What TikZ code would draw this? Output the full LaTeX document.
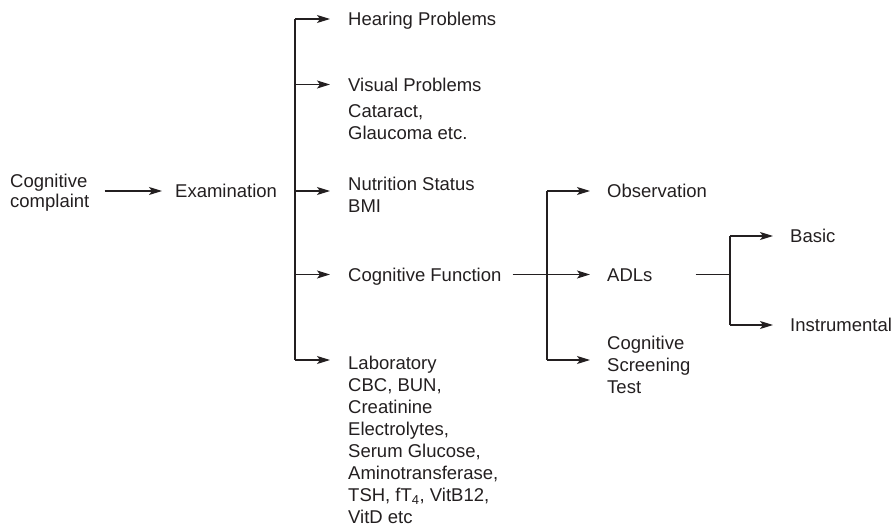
\documentclass[tikz,border=0pt]{standalone}
\usepackage{fontspec}
\setmainfont{Liberation Sans}
\usetikzlibrary{arrows.meta,calc}

\definecolor{ink}{HTML}{231F20}

\tikzset{
  lbl/.style={font=\fontsize{18.5}{22}\selectfont, text=ink, inner sep=0pt,
              anchor=west, text height=13.2pt, text depth=0pt},
  % multi-line blocks are placed by the baseline of their last line
  blk/.style={font=\fontsize{18.5}{22}\selectfont, text=ink, inner sep=0pt,
              align=left, anchor=base west},
  wire/.style={draw=ink, line width=1.2pt},
  arr/.style={wire, -{Stealth[length=13pt, width=8pt, inset=3pt]}}
}

\begin{document}
\begin{tikzpicture}[x=1pt, y=-1pt]
  \useasboundingbox (0,0) rectangle (893,526);

  % first column
  \node[blk, font=\fontsize{18.5}{20.5}\selectfont] (cc) at (10,208) {Cognitive\\complaint};
  \node[lbl] (exam) at (175,191) {Examination};

  % examination items
  \node[lbl] (hear) at (348,19) {Hearing Problems};
  \node[lbl] (vis) at (348,84.5) {Visual Problems};
  \node[blk] (cat) at (348,139.5) {Cataract,\\Glaucoma etc.};
  \node[blk] (nut) at (348,212.7) {Nutrition Status\\BMI};
  \node[lbl] (cf) at (348,274.5) {Cognitive Function};
  \node[blk] (lab) at (348,523.3) {Laboratory\\CBC, BUN,\\Creatinine\\Electrolytes,\\Serum Glucose,\\Aminotransferase,\\TSH, fT\textsubscript{4}, VitB12,\\VitD etc};

  % cognitive function items
  \node[lbl] (obs) at (607,191) {Observation};
  \node[lbl] (adl) at (607,274.5) {ADLs};
  \node[blk] (cst) at (607,393.3) {Cognitive\\Screening\\Test};

  % ADL items
  \node[lbl] (basic) at (790,236) {Basic};
  \node[lbl] (instr) at (790,325) {Instrumental};

  % bus lines and entry points
  \coordinate (b1) at (295,0);
  \coordinate (b2) at (547,0);
  \coordinate (b3) at (730,0);
  \coordinate (labin) at ($(lab.base west)+(0,163.3pt)$);
  \coordinate (cstin) at ($(cst.base west)+(0,33.3pt)$);

  % complaint to examination
  \draw[arr] ($(cc.east |- exam.west)+(15pt,0)$) -- ($(exam.west)+(-13pt,0)$);

  % examination branches
  \draw[wire] (b1 |- hear.west) -- (b1 |- labin);
  \draw[arr] (b1 |- hear.west) -- ($(hear.west)+(-18pt,0)$);
  \draw[arr] (b1 |- vis.west) -- ($(vis.west)+(-18pt,0)$);
  \draw[arr] (b1 |- exam.west) -- ($(nut.base west |- exam.west)+(-18pt,0)$);
  \draw[arr] (b1 |- cf.west) -- ($(cf.west)+(-18pt,0)$);
  \draw[arr] (b1 |- labin) -- ($(labin)+(-18pt,0)$);

  % cognitive function branches
  \draw[wire] (b2 |- obs.west) -- (b2 |- cstin);
  \draw[arr] ($(cf.east)+(11pt,0)$) -- ($(adl.west)+(-17pt,0)$);
  \draw[arr] (b2 |- obs.west) -- ($(obs.west)+(-17pt,0)$);
  \draw[arr] (b2 |- cstin) -- ($(cstin)+(-17pt,0)$);

  % ADL branches
  \draw[wire] ($(adl.east)+(43pt,0)$) -- (b3 |- adl.east);
  \draw[wire] (b3 |- basic.west) -- (b3 |- instr.west);
  \draw[arr] (b3 |- basic.west) -- ($(basic.west)+(-17pt,0)$);
  \draw[arr] (b3 |- instr.west) -- ($(instr.west)+(-17pt,0)$);
\end{tikzpicture}
\end{document}
